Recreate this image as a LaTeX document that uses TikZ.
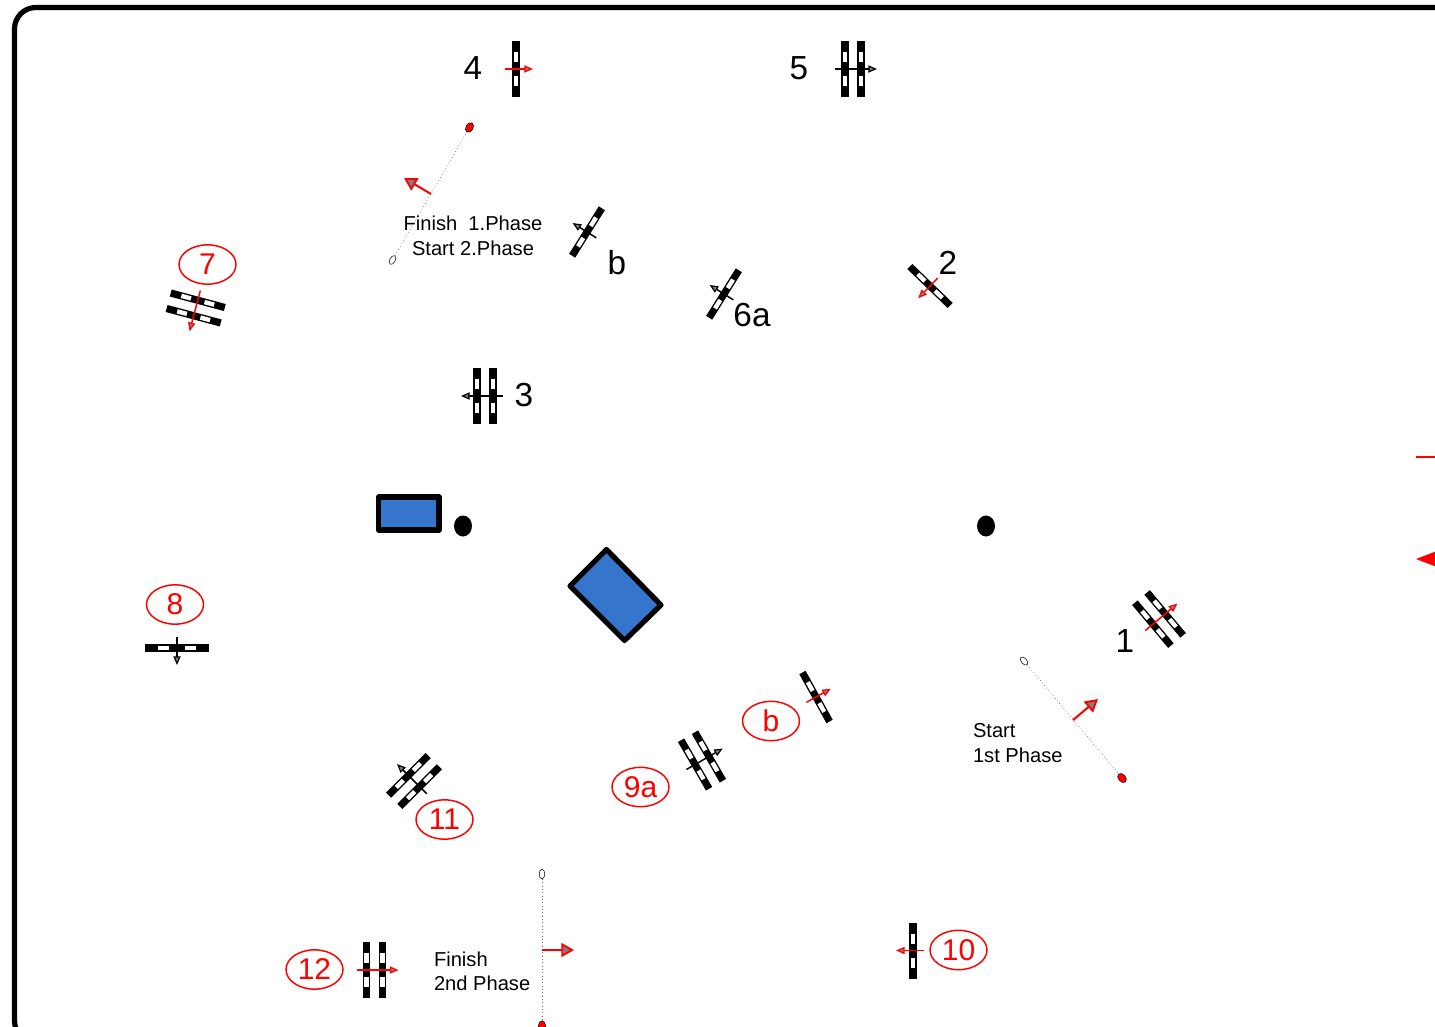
\documentclass[tikz,border=0pt]{standalone}
\usepackage{fontspec}
\setmainfont{Liberation Sans}
\usetikzlibrary{arrows.meta,shapes.geometric}

\definecolor{boxblue}{HTML}{3575CC}

\tikzset{
    every picture/.style={line width=0.75pt},
    gatearrow/.style={line width=1.1pt,-{Triangle[length=6.5pt,width=5.4pt,fill=gray,line width=0.9pt]}},
    phasearrow/.style={red,line width=1.5pt,-{Triangle[length=9.5pt,width=10.5pt,fill=gray,line width=1.4pt]}},
    phaseline/.style={dotted,line width=0.5pt,black!60},
    startmark/.style={ellipse,draw=black,line width=0.4pt,fill=white,inner sep=0pt,minimum width=4.2pt,minimum height=7.2pt},
    finishmark/.style={ellipse,draw=black,line width=0.4pt,fill=red,inner sep=0pt,minimum width=5.4pt,minimum height=7.8pt},
    numlabel/.style={font=\fontsize{25}{25}\selectfont,text=black,inner sep=0pt},
    redlabel/.style={ellipse,draw=red,line width=1.1pt,text=red,font=\fontsize{22.5}{22.5}\selectfont,inner sep=0pt,minimum width=42.75pt,minimum height=29.5pt},
    phasetext/.style={font=\fontsize{15.1}{18.4}\selectfont,text=black,inner sep=0pt},
    hurdle/.pic={
        \fill[black] (-3.6,-28) rectangle (3.6,28);
        \fill[white] (-2.2,-17) rectangle (2.2,-7);
        \fill[white] (-2.2,7) rectangle (2.2,17);
    },
    gateone/.pic={
        \pic [transform shape] {hurdle};
        \draw[gatearrow,#1] (-11,0) -- (17,0);
    },
    gatetwo/.pic={
        \pic [transform shape] at (-8,0) {hurdle};
        \pic [transform shape] at (8,0) {hurdle};
        \draw[gatearrow,#1] (-18,0) -- (24,0);
    }
}

\begin{document}
\begin{tikzpicture}[
            x=0.75pt,
            y=0.75pt,
            yscale=-1,
            xscale=1,
            line width=0.75pt
        ]
            \useasboundingbox (0,0) rectangle (1435,1027);
            \clip (0,0) rectangle (1435,1027);

            % arena
            \draw [line width=3.9pt,rounded corners=16pt] (14.5,1042) -- (14.5,7.5) -- (1480,7.5) -- (1480,1042) -- cycle;
            \draw [red,line width=1.1pt] (1416,457) -- (1450,457);
            \fill [red] (1416,559) -- (1450,572) -- (1450,546) -- cycle;

            % boxes and markers
            \draw [fill=boxblue,line width=3.9pt,line join=round] (378.5,497) rectangle (439,530);
            \draw [fill=boxblue,line width=3.9pt,line join=round] (606.5,549.5) -- (661,605) -- (624.5,640.5) -- (570,586) -- cycle;
            \fill (463,526) ellipse (9 and 10.5);
            \fill (986,526) ellipse (9 and 10.5);

            % gates
            \pic [rotate=40] at (1159,619) {gatetwo=red};
            \pic [rotate=-134] at (930,286) {gateone=red};
            \pic [rotate=180] at (485,396) {gatetwo=black};
            \pic at (516,69) {gateone=red};
            \pic at (853,69) {gatetwo=black};
            \pic [rotate=-212] at (724,294) {gateone=black};
            \pic [rotate=-212] at (587,232) {gateone=black};
            \pic [rotate=-105] at (195.7,308) {gatetwo=red};
            \pic [rotate=90,yscale=1.14] at (177,648) {hurdle};
            \draw [gatearrow,black] (177,637) -- (177,665);
            \pic [rotate=30] at (702,760.5) {gatetwo=black};
            \pic [rotate=29] at (816,697) {gateone=red};
            \pic [rotate=180] at (913,950.5) {gateone=red};
            \pic [rotate=-225] at (414,781) {gatetwo=black};
            \pic at (374.5,970) {gatetwo=red};

            % phase lines
            \node [startmark,rotate=40] (start1) at (1024,661) {};
            \node [finishmark,rotate=40] (finish1) at (1122,778) {};
            \draw [phaseline] (start1) -- (finish1);
            \coordinate (tail1) at (1073,720);
            \coordinate (tip1) at (1098,699);
            \draw [phasearrow] (tail1) -- (tip1);

            \node [startmark,rotate=-30] (start2) at (392.5,260) {};
            \node [finishmark,rotate=-30] (finish2) at (469.5,127.5) {};
            \draw [phaseline] (start2) -- (finish2);
            \coordinate (tail2) at (431,194);
            \coordinate (tip2) at (404,178);
            \draw [phasearrow] (tail2) -- (tip2);

            \node [startmark] (start3) at (542,874) {};
            \node [finishmark] (finish3) at (542,1026) {};
            \draw [phaseline] (start3) -- (finish3);
            \coordinate (tail3) at (542,950);
            \coordinate (tip3) at (574,950);
            \draw [phasearrow] (tail3) -- (tip3);

            % labels
            \node [phasetext,align=left,anchor=north west] (txtstart) at (972.5,723) {Start\\1st Phase};
            \node [phasetext,align=center] (txtmiddle) at (473,236) {Finish\ \ 1.Phase\\Start 2.Phase};
            \node [phasetext,align=left,anchor=north west] (txtfinish) at (433.5,951) {Finish\\2nd Phase};

            \node [numlabel] (lab1) at (1125,641) {1};
            \node [numlabel] (lab2) at (948,263) {2};
            \node [numlabel] (lab3) at (524,395) {3};
            \node [numlabel] (lab4) at (473,68) {4};
            \node [numlabel] (lab5) at (799,68) {5};
            \node [numlabel] (lab6a) at (752,315) {6a};
            \node [numlabel] (labb) at (617,263) {b};

            \node [redlabel] (lab7) at (207.5,264.5) {7};
            \node [redlabel] (lab8) at (175,604.5) {8};
            \node [redlabel] (lab9a) at (640.5,787) {9a};
            \node [redlabel] (labbred) at (771,721) {b};
            \node [redlabel] (lab10) at (958.5,950) {10};
            \node [redlabel] (lab11) at (444.5,819.5) {11};
            \node [redlabel] (lab12) at (314.5,969.5) {12};
        \end{tikzpicture}
\end{document}
